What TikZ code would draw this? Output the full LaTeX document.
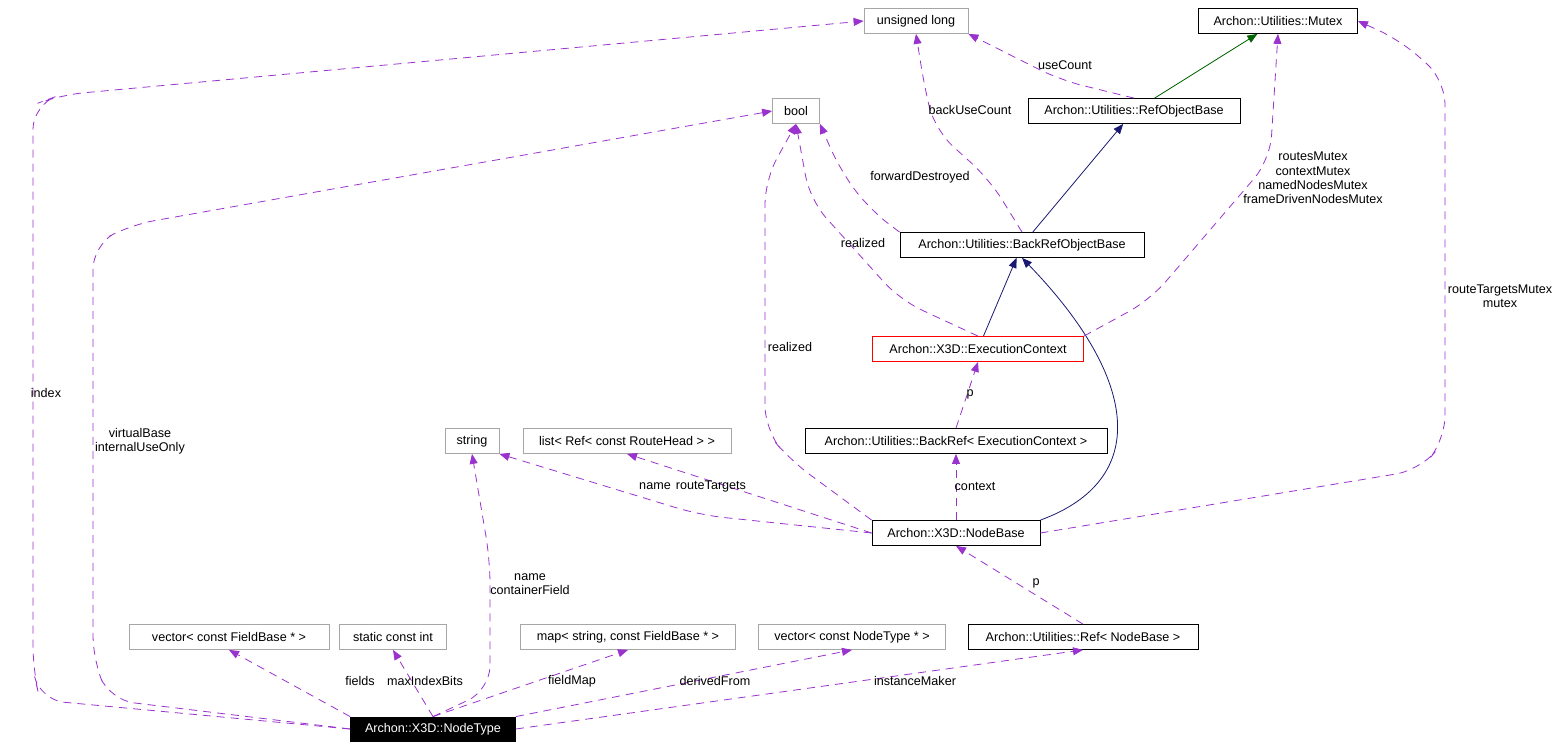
\documentclass[tikz,border=0pt]{standalone}
\usepackage{fontspec}
\setmainfont{Liberation Sans}
\usetikzlibrary{arrows.meta}
\begin{document}
\begin{tikzpicture}[x=0.5pt,y=-0.5pt,
 every node/.style={font=\fontsize{6.3}{7.2}\selectfont},
 box/.style={draw=black,line width=0.4pt,minimum height=12.5pt,inner xsep=2pt,inner sep=0pt,anchor=center},
 gbox/.style={box,draw=black!35},
 rbox/.style={box,draw=red},
 dep/.style={draw={rgb,255:red,154;green,50;blue,205},dash pattern=on 4pt off 3pt,line width=0.4pt,-{Triangle[length=5pt,width=4pt,fill={rgb,255:red,154;green,50;blue,205}]},rounded corners=12pt},
 inh/.style={draw={rgb,255:red,25;green,25;blue,112},line width=0.4pt,-{Triangle[length=5pt,width=4pt,fill={rgb,255:red,25;green,25;blue,112}]}},
 inhg/.style={draw={rgb,255:red,0;green,100;blue,0},line width=0.4pt,-{Triangle[length=5pt,width=4pt,fill={rgb,255:red,0;green,100;blue,0}]}},
 lab/.style={align=center,inner sep=1pt}]
\useasboundingbox (0,0) rectangle (1564,747);
\node[gbox,minimum width=52pt] (ul) at (916,21) {unsigned long};
\node[box,minimum width=79.5pt] (mx) at (1278,21) {Archon::Utilities::Mutex};
\node[gbox,minimum width=23.5pt] (bo) at (796,111) {bool};
\node[box,minimum width=106pt] (rob) at (1134,111) {Archon::Utilities::RefObjectBase};
\node[box,minimum width=122pt] (brob) at (1022,245) {Archon::Utilities::BackRefObjectBase};
\node[rbox,minimum width=105.5pt] (ec) at (978,349) {Archon::X3D::ExecutionContext};
\node[gbox,minimum width=27pt] (st) at (472,441) {string};
\node[gbox,minimum width=104pt] (li) at (627,441) {list< Ref< const RouteHead > >};
\node[box,minimum width=151pt] (br) at (956,441) {Archon::Utilities::BackRef< ExecutionContext >};
\node[box,minimum width=84pt] (nb) at (956,533) {Archon::X3D::NodeBase};
\node[gbox,minimum width=100pt] (vf) at (229,637) {vector< const FieldBase * >};
\node[gbox,minimum width=53.5pt] (sci) at (393,637) {static const int};
\node[gbox,minimum width=107.5pt] (mp) at (628,637) {map< string, const FieldBase * >};
\node[gbox,minimum width=93.5pt] (vn) at (852,637) {vector< const NodeType * >};
\node[box,minimum width=115pt] (rn) at (1083,637) {Archon::Utilities::Ref< NodeBase >};
\node[box,fill=black,text=white,minimum width=82.5pt,minimum height=12pt] (nt) at (433,729) {Archon::X3D::NodeType};

% inheritance
\draw[inhg] (rob) -- (mx);
\draw[inh] (brob) -- (rob);
\draw[inh] (ec) -- (brob);
\draw[inh] (nb.north east) .. controls (1150,480) and (1140,380) .. (brob.south);

% NodeType deps
\draw[dep] (nt.west) -- (40,700) -- (33,670) -- (33,105) -- (60,95) -- (ul.west);
\node[lab] at (46,393) {index};
\draw[dep] (nt.west) -- (110,700) -- (93,660) -- (93,245) -- (130,225) -- (bo.west);
\node[lab] at (140,441) {virtualBase\\internalUseOnly};
\draw[dep] (nt.north) -- (490,690) -- (490,560) -- (st.south);
\node[lab] at (530,584) {name\\containerField};
\draw[dep,rounded corners=0pt] (nt.north west) -- (vf.south);
\node[lab] at (360,681) {fields};
\draw[dep,rounded corners=0pt] (nt.north) -- (sci.south);
\node[lab] at (425,681) {maxIndexBits};
\draw[dep,rounded corners=0pt] (nt.north) -- (mp.south);
\node[lab] at (572,681) {fieldMap};
\draw[dep,rounded corners=0pt] (nt.north east) -- (vn.south);
\node[lab] at (715,681) {derivedFrom};
\draw[dep,rounded corners=0pt] (nt.east) -- (rn.south);
\node[lab] at (915,681) {instanceMaker};

% NodeBase deps
\draw[dep,rounded corners=0pt] (rn.north) -- (nb.south);
\node[lab] at (1036,583) {p};
\draw[dep] (nb.west) -- (700,515) -- (st.south east);
\node[lab] at (655,486) {name};
\draw[dep] (nb.west) -- (li.south);
\node[lab] at (711,486) {routeTargets};
\draw[dep,rounded corners=0pt] (nb.north) -- (br.south);
\node[lab] at (975,486) {context};
\draw[dep] (nb.north west) -- (790,460) -- (765,430) -- (765,180) -- (bo.south);
\node[lab] at (790,347) {realized};
\draw[dep] (nb.east) -- (1420,470) -- (1445,440) -- (1445,80) -- (1400,40) -- (mx.east);
\node[lab] at (1500,296) {routeTargetsMutex\\mutex};

\draw[dep,rounded corners=0pt] (br.north) -- (ec.south);
\node[lab] at (970,394) {p};
\draw[dep] (ec.north) -- (900,300) -- (810,200) -- (bo.south);
\node[lab] at (863,243) {realized};
\draw[dep] (ec.north east) -- (1150,300) -- (1270,160) -- (mx.south);
\node[lab] at (1313,178) {routesMutex\\contextMutex\\namedNodesMutex\\frameDrivenNodesMutex};

\draw[dep] (brob.north west) -- (870,210) -- (840,170) -- (bo.south east);
\node[lab] at (920,177) {forwardDestroyed};
\draw[dep] (brob.north) -- (990,180) -- (935,130) -- (925,90) -- (ul.south);
\node[lab] at (970,110) {backUseCount};
\draw[dep] (rob.north) -- (1060,80) -- (ul.south east);
\node[lab] at (1065,65) {useCount};
\end{tikzpicture}
\end{document}
